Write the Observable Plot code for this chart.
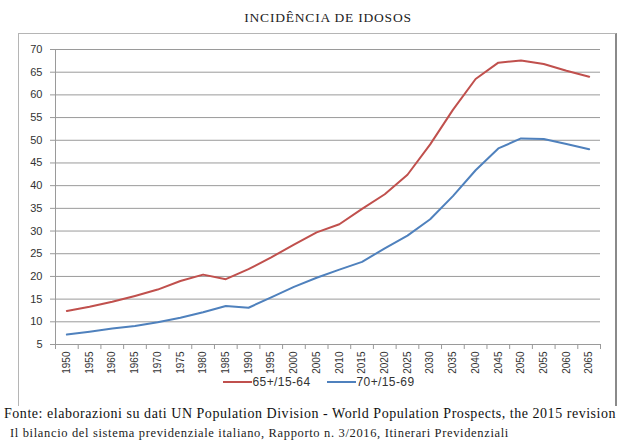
<!DOCTYPE html>
<html>
<head>
<meta charset="utf-8">
<script src="https://cdn.jsdelivr.net/npm/d3@7"></script>
<script src="https://cdn.jsdelivr.net/npm/@observablehq/plot@0.6"></script>
<style>
  html, body { margin: 0; padding: 0; background: #fff; }
  #root { position: relative; width: 625px; height: 441px; overflow: hidden; background: #fff; }
  #title { position: absolute; left: 0; width: 656px; top: 10px; text-align: center;
           font-family: "Liberation Serif", "DejaVu Serif", serif; font-size: 13.5px; color: #222; letter-spacing: 0.8px; }
  #frame { position: absolute; left: 18px; top: 33px; width: 596px; height: 372px;
           border-top: 1px solid #b5b5b5; border-left: 1px solid #b5b5b5; border-right: 2px solid #8a8a8a; }
  #chart { position: absolute; left: 0; top: 30px; }
  #legend { position: absolute; left: 0; top: 375px; width: 637px; display: flex; justify-content: center; align-items: center;
            font-family: "Liberation Sans", Arial, sans-serif; font-size: 12px; color: #333; }
  .sw { display: inline-block; width: 29px; height: 2px; margin-right: 1px; }
  .item { display: flex; align-items: center; margin: 0 8px; letter-spacing: 0.4px; }
  #cap1 { position: absolute; left: 4px; top: 406px; white-space: nowrap;
          font-family: "Liberation Serif", "DejaVu Serif", serif; font-size: 14px; letter-spacing: 0.53px; color: #111; }
  #cap2 { position: absolute; left: 10px; top: 426px; white-space: nowrap;
          font-family: "Liberation Serif", "DejaVu Serif", serif; font-size: 12.5px; letter-spacing: 0.65px; color: #222; }
</style>
</head>
<body>
<div id="root">
  <div id="title">INCIDÊNCIA DE IDOSOS</div>
  <div id="frame"></div>
  <div id="chart"></div>
  <div id="legend"></div>
  <div id="cap1">Fonte: elaborazioni su dati UN Population Division - World Population Prospects, the 2015 revision</div>
  <div id="cap2">Il bilancio del sistema previdenziale italiano, Rapporto n. 3/2016, Itinerari Previdenziali</div>
</div>
<script>
// Categories (years)
const years = [1950,1955,1960,1965,1970,1975,1980,1985,1990,1995,2000,2005,2010,2015,2020,2025,2030,2035,2040,2045,2050,2055,2060,2065];
// Series values
const series65 = [12.4,13.3,14.4,15.7,17.1,19.0,20.4,19.4,21.6,24.2,27.0,29.7,31.5,34.9,38.1,42.4,49.1,56.7,63.5,67.1,67.6,66.8,65.3,64.0];
const series70 = [7.2,7.8,8.5,9.1,9.9,10.9,12.1,13.5,13.1,15.4,17.7,19.7,21.5,23.2,26.2,29.0,32.6,37.7,43.4,48.2,50.4,50.3,49.2,48.0];
const seriesNames = ["65+/15-64", "70+/15-69"];
const seriesColors = ["#C0504D", "#4F81BD"];
// Tick labels
const yTicks = [5,10,15,20,25,30,35,40,45,50,55,60,65,70];

const step = 5;
const xDomain = [years[0] - step / 2, years[years.length - 1] + step / 2];
const boundaries = years.map(y => y - step / 2).concat([years[years.length - 1] + step / 2]);

const data = [];
years.forEach((yr, i) => {
  data.push({year: yr, value: series65[i], series: seriesNames[0]});
  data.push({year: yr, value: series70[i], series: seriesNames[1]});
});

const chart = Plot.plot({
  width: 625,
  height: 346,
  marginLeft: 55,
  marginRight: 25,
  marginTop: 19,
  marginBottom: 32,
  style: {fontFamily: "'Liberation Sans', Arial, sans-serif", background: "transparent"},
  x: {type: "linear", domain: xDomain},
  y: {domain: [yTicks[0], yTicks[yTicks.length - 1]]},
  color: {domain: seriesNames, range: seriesColors},
  marks: [
    Plot.ruleY(yTicks, {stroke: "#9a9a9a", strokeWidth: 1}),
    Plot.ruleX([xDomain[0]], {y1: yTicks[0], y2: yTicks[yTicks.length - 1], stroke: "#9a9a9a"}),
    Plot.axisY({ticks: yTicks, tickSize: 5, tickPadding: 8, stroke: "#9a9a9a", fill: "#333", fontSize: 11, label: null, tickFormat: d => String(d)}),
    Plot.axisX({ticks: boundaries, tickSize: 5, stroke: "#9a9a9a", tickFormat: () => "", label: null}),
    Plot.axisX({ticks: years, tickSize: 0, tickPadding: 7, tickRotate: -90, fill: "#333", fontSize: 10, label: null, tickFormat: d => String(d)}),
    Plot.line(data, {x: "year", y: "value", stroke: "series", strokeWidth: 2})
  ]
});
document.getElementById("chart").appendChild(chart);

const legend = document.getElementById("legend");
seriesNames.forEach((name, i) => {
  const item = document.createElement("div");
  item.className = "item";
  const sw = document.createElement("span");
  sw.className = "sw";
  sw.style.background = seriesColors[i];
  item.appendChild(sw);
  item.appendChild(document.createTextNode(name));
  legend.appendChild(item);
});
</script>
</body>
</html>
